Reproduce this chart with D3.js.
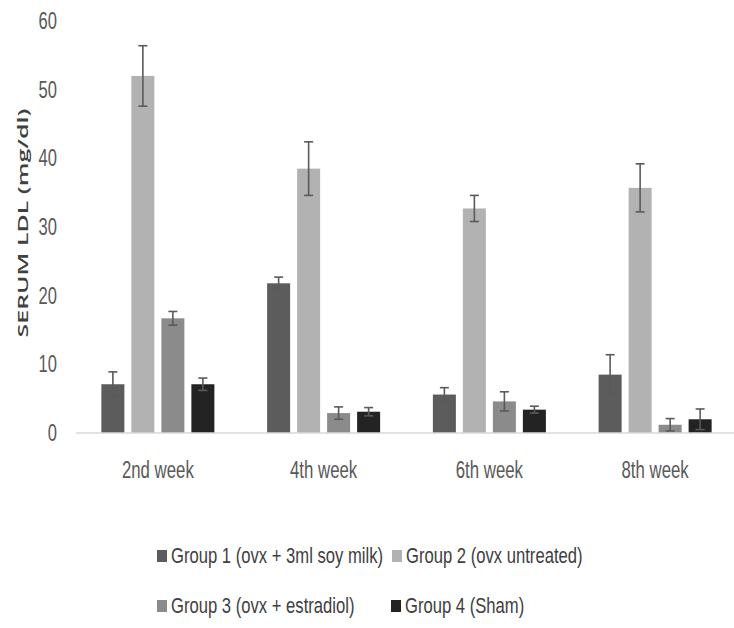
<!DOCTYPE html>
<html>
<head>
<meta charset="utf-8">
<script src="https://cdn.jsdelivr.net/npm/d3@7"></script>
<style>
  html, body { margin: 0; padding: 0; background: #fff; }
  svg { display: block; }
</style>
</head>
<body>
<svg id="chart" width="734" height="628"></svg>
<script>
// Serum LDL by week and treatment group (mean ± error)
const weeks = ["2nd week", "4th week", "6th week", "8th week"];
const groups = [
  "Group 1 (ovx + 3ml soy milk)",
  "Group 2 (ovx untreated)",
  "Group 3 (ovx + estradiol)",
  "Group 4 (Sham)"
];
const group1 = [7.1, 21.8, 5.6, 8.5];
const group2 = [52.0, 38.5, 32.7, 35.7];
const group3 = [16.7, 2.9, 4.6, 1.2];
const group4 = [7.1, 3.1, 3.4, 2.0];
const group1Err = [1.8, 0.9, 1.0, 2.9];
const group2Err = [4.4, 3.9, 1.9, 3.5];
const group3Err = [1.0, 0.9, 1.4, 0.9];
const group4Err = [0.9, 0.6, 0.5, 1.5];
const yTicks = [0, 10, 20, 30, 40, 50, 60];
const yTitle = "SERUM LDL (mg/dl)";

const colors = ["#5c5c5c", "#b2b2b2", "#8b8b8b", "#232323"];
const values = [group1, group2, group3, group4];
const errors = [group1Err, group2Err, group3Err, group4Err];

const rows = [];
weeks.forEach((w, i) => {
  groups.forEach((g, j) => {
    rows.push({ week: w, group: g, value: values[j][i], err: errors[j][i], color: colors[j] });
  });
});

const svg = d3.select("#chart");
const condensed = "'Liberation Sans Narrow', 'Liberation Sans', Arial, sans-serif";

const x0 = d3.scaleBand().domain(weeks).range([75, 738]).paddingInner(0).paddingOuter(0);
const x1 = d3.scaleBand().domain(groups).range([0, x0.bandwidth()]).paddingInner(0.233).paddingOuter(0.879);
const y = d3.scaleLinear().domain([0, 60]).range([433, 21]);

// y tick labels (no axis line, no gridlines)
svg.append("g").selectAll("text")
  .data(yTicks).join("text")
  .attr("transform", d => `translate(57,${y(d)}) scale(0.72,1)`)
  .attr("text-anchor", "end")
  .attr("dominant-baseline", "central")
  .attr("font-family", condensed)
  .attr("font-size", 23)
  .attr("fill", "#595959")
  .text(d => d);

// y title
svg.append("text")
  .attr("transform", "translate(22,223) rotate(-90) scale(1.72,1)")
  .attr("text-anchor", "middle")
  .attr("dominant-baseline", "central")
  .attr("font-family", "'Open Sans', 'DejaVu Sans', sans-serif")
  .attr("font-weight", 600)
  .attr("font-size", 14.5)
  .attr("fill", "#404040")
  .text(yTitle);

// bars
const bars = svg.append("g");
bars.selectAll("rect")
  .data(rows).join("rect")
  .attr("x", d => x0(d.week) + x1(d.group))
  .attr("y", d => y(d.value))
  .attr("width", x1.bandwidth())
  .attr("height", d => y(0) - y(d.value))
  .attr("fill", d => d.color);

// baseline
svg.append("line")
  .attr("x1", 76).attr("x2", 734)
  .attr("y1", y(0)).attr("y2", y(0))
  .attr("stroke", "#d9d9d9").attr("stroke-width", 1.5);

// error bars
const eb = svg.append("g").attr("stroke", "#5a5a5a").attr("stroke-width", 1.6);
rows.forEach(d => {
  const cx = x0(d.week) + x1(d.group) + x1.bandwidth() / 2;
  const top = y(d.value + d.err), bot = y(Math.max(0, d.value - d.err));
  eb.append("line").attr("x1", cx).attr("x2", cx).attr("y1", top).attr("y2", bot);
  eb.append("line").attr("x1", cx - 4.5).attr("x2", cx + 4.5).attr("y1", top).attr("y2", top);
  eb.append("line").attr("x1", cx - 4.5).attr("x2", cx + 4.5).attr("y1", bot).attr("y2", bot);
});

// category labels
svg.append("g").selectAll("text")
  .data(weeks).join("text")
  .attr("transform", d => `translate(${x0(d) + x0.bandwidth() / 2},478) scale(0.73,1)`)
  .attr("text-anchor", "middle")
  .attr("font-family", condensed)
  .attr("font-size", 23)
  .attr("fill", "#595959")
  .text(d => d);

// legend
const legendPos = [[157, 563], [392, 563], [157, 613], [391, 613]];
const leg = svg.append("g");
groups.forEach((g, j) => {
  const [lx, ly] = legendPos[j];
  leg.append("rect")
    .attr("x", lx).attr("y", ly - 13)
    .attr("width", 10).attr("height", 12)
    .attr("fill", colors[j]);
  leg.append("text")
    .attr("transform", `translate(${lx + 14},${ly}) scale(0.756,1)`)
    .attr("font-family", condensed)
    .attr("font-size", 22)
    .attr("fill", "#404040")
    .text(g);
});
</script>
</body>
</html>
